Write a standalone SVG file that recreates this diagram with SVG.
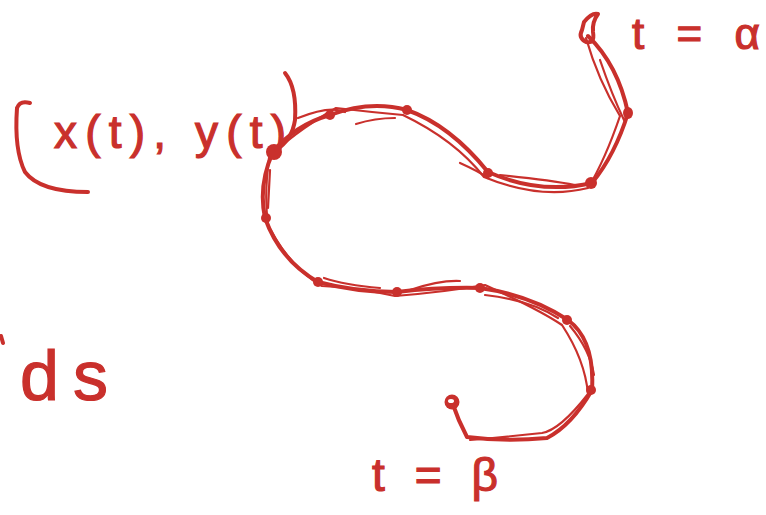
<svg xmlns="http://www.w3.org/2000/svg" width="766" height="515" viewBox="0 0 766 515">
<style>
.ink{fill:none;stroke:#c9302c;stroke-linecap:round;stroke-linejoin:round}
.main{stroke-width:4}
.thin{stroke-width:2.2}
.knot{fill:#c9302c}
.lbl{font-family:"Liberation Sans","DejaVu Sans",sans-serif;fill:#c9302c;stroke:#c9302c;stroke-width:1.2}
</style>
<rect width="766" height="515" fill="#ffffff"/>
<g id="curve">
<path class="ink main" d="M588,36 Q618,65 628,113 Q615,155 592,183 Q540,195 488,172 Q450,125 407,110 Q370,100 330,115 Q295,125 273,152 Q258,185 265,218 Q280,260 318,282 Q355,292 397,292 Q440,287 480,288 Q530,295 568,320 Q595,340 592,390 Q572,425 547,438 Q505,442 467,437 Q458,420 452,402"/>
<path class="ink thin" d="M586,38 Q598,80 620,116 Q605,160 588,188 Q540,200 484,177 Q455,140 403,115 Q370,112 336,108 Q290,135 269,158 Q264,195 268,225 Q290,268 322,286 Q360,288 395,296 Q445,292 485,285 Q540,310 562,325 Q585,360 588,394 Q560,430 542,433 Q505,437 470,440"/>
<path class="ink thin" d="M600,60 Q612,95 624,120"/>
<path class="ink thin" d="M298,118 Q330,105 345,112"/>
<path class="ink thin" d="M356,124 Q375,118 395,118"/>
<path class="ink thin" d="M460,163 Q480,172 488,178"/>
<path class="ink thin" d="M500,175 Q550,180 575,185"/>
<path class="ink thin" d="M324,278 Q345,285 380,288"/>
<path class="ink thin" d="M410,290 Q440,280 460,281"/>
<path class="ink thin" d="M485,295 Q530,300 558,318"/>
<path class="ink thin" d="M570,326 Q590,350 594,375"/>
<path class="ink thin" d="M270,170 L268,208"/>
<ellipse class="knot" cx="628" cy="113" rx="5" ry="6"/>
<ellipse class="knot" cx="591" cy="183" rx="6" ry="6"/>
<ellipse class="knot" cx="488" cy="173" rx="5" ry="5"/>
<ellipse class="knot" cx="407" cy="110" rx="5" ry="5"/>
<ellipse class="knot" cx="330" cy="115" rx="5" ry="5"/>
<ellipse class="knot" cx="274" cy="152" rx="8" ry="8"/>
<ellipse class="knot" cx="266" cy="218" rx="5" ry="5"/>
<ellipse class="knot" cx="318" cy="282" rx="5" ry="5"/>
<ellipse class="knot" cx="397" cy="292" rx="5" ry="5"/>
<ellipse class="knot" cx="480" cy="288" rx="5" ry="5"/>
<ellipse class="knot" cx="567" cy="320" rx="5" ry="5"/>
<ellipse class="knot" cx="591" cy="390" rx="5" ry="5"/>
<path class="ink main" d="M584,22 Q592,12 598,14 Q592,22 593,32 Q595,44 586,42 Q578,38 582,30 Z"/>
<circle cx="452" cy="402" r="7.5" class="knot"/>
<ellipse cx="451" cy="401" rx="3" ry="2" fill="#ffffff"/>
</g>
<g id="connectors">
<path class="ink main" d="M30,103 Q20,100 17,108 Q14,150 25,172 Q40,192 88,192"/>
<path class="ink main" d="M285,73 Q297,88 295,120 Q292,140 276,150"/>
<path class="ink main" d="M1,336 L3,343"/>
</g>
<g id="labels">
<text class="lbl" x="54" y="148" font-size="46" textLength="232" lengthAdjust="spacing">x(t), y(t)</text>
<text class="lbl" x="632" y="49" font-size="44" textLength="128" lengthAdjust="spacing">t = α</text>
<text class="lbl" x="20" y="400" font-size="70" textLength="88" lengthAdjust="spacing">ds</text>
<text class="lbl" x="372" y="491" font-size="46" textLength="126" lengthAdjust="spacing">t = β</text>
</g>
</svg>
